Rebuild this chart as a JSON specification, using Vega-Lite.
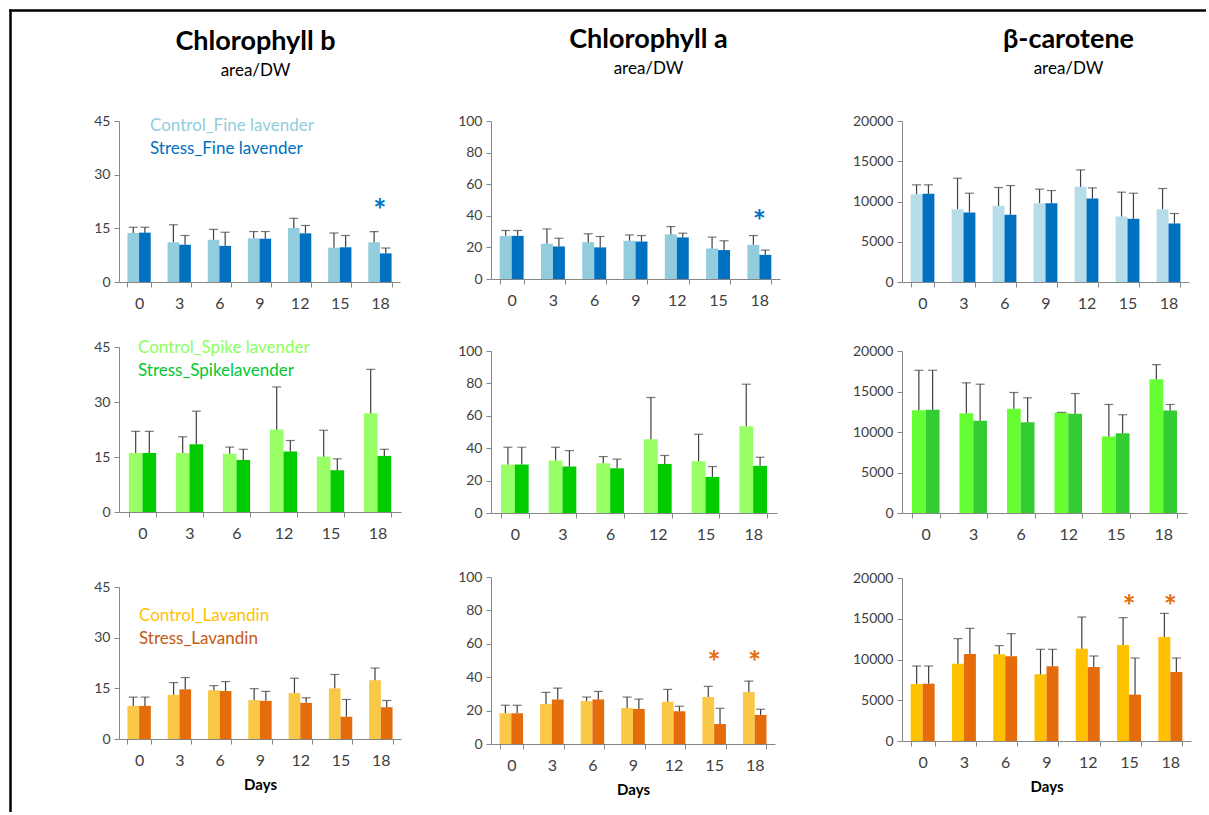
{
  "$schema": "https://vega.github.io/schema/vega-lite/v6.json",
  "padding": {"left": 10, "top": 10, "right": 0, "bottom": 0},
  "background": "white",
  "datasets": {
    "pig": [
      {"p": "b", "v": "F", "g": "Control_Fine lavender", "d": 0, "m": 13.7, "h": 15.3},
      {"p": "b", "v": "F", "g": "Stress_Fine lavender", "d": 0, "m": 13.8, "h": 15.3},
      {"p": "b", "v": "F", "g": "Control_Fine lavender", "d": 3, "m": 11.1, "h": 16.0},
      {"p": "b", "v": "F", "g": "Stress_Fine lavender", "d": 3, "m": 10.4, "h": 13.0},
      {"p": "b", "v": "F", "g": "Control_Fine lavender", "d": 6, "m": 11.8, "h": 14.7},
      {"p": "b", "v": "F", "g": "Stress_Fine lavender", "d": 6, "m": 10.1, "h": 13.9},
      {"p": "b", "v": "F", "g": "Control_Fine lavender", "d": 9, "m": 12.2, "h": 14.1},
      {"p": "b", "v": "F", "g": "Stress_Fine lavender", "d": 9, "m": 12.1, "h": 14.1},
      {"p": "b", "v": "F", "g": "Control_Fine lavender", "d": 12, "m": 15.1, "h": 17.8},
      {"p": "b", "v": "F", "g": "Stress_Fine lavender", "d": 12, "m": 13.6, "h": 15.8},
      {"p": "b", "v": "F", "g": "Control_Fine lavender", "d": 15, "m": 9.6, "h": 13.7},
      {"p": "b", "v": "F", "g": "Stress_Fine lavender", "d": 15, "m": 9.7, "h": 13.0},
      {"p": "b", "v": "F", "g": "Control_Fine lavender", "d": 18, "m": 11.1, "h": 14.1},
      {"p": "b", "v": "F", "g": "Stress_Fine lavender", "d": 18, "m": 8.0, "h": 9.5, "s": true},

      {"p": "a", "v": "F", "g": "Control_Fine lavender", "d": 0, "m": 27.3, "h": 30.7},
      {"p": "a", "v": "F", "g": "Stress_Fine lavender", "d": 0, "m": 27.3, "h": 30.7},
      {"p": "a", "v": "F", "g": "Control_Fine lavender", "d": 3, "m": 22.3, "h": 31.7},
      {"p": "a", "v": "F", "g": "Stress_Fine lavender", "d": 3, "m": 20.6, "h": 25.8},
      {"p": "a", "v": "F", "g": "Control_Fine lavender", "d": 6, "m": 23.3, "h": 28.6},
      {"p": "a", "v": "F", "g": "Stress_Fine lavender", "d": 6, "m": 20.0, "h": 26.9},
      {"p": "a", "v": "F", "g": "Control_Fine lavender", "d": 9, "m": 24.2, "h": 27.9},
      {"p": "a", "v": "F", "g": "Stress_Fine lavender", "d": 9, "m": 23.7, "h": 27.5},
      {"p": "a", "v": "F", "g": "Control_Fine lavender", "d": 12, "m": 28.2, "h": 33.2},
      {"p": "a", "v": "F", "g": "Stress_Fine lavender", "d": 12, "m": 26.3, "h": 29.0},
      {"p": "a", "v": "F", "g": "Control_Fine lavender", "d": 15, "m": 19.3, "h": 26.5},
      {"p": "a", "v": "F", "g": "Stress_Fine lavender", "d": 15, "m": 18.3, "h": 24.2},
      {"p": "a", "v": "F", "g": "Control_Fine lavender", "d": 18, "m": 21.6, "h": 27.5},
      {"p": "a", "v": "F", "g": "Stress_Fine lavender", "d": 18, "m": 15.3, "h": 18.3, "s": true},

      {"p": "c", "v": "F", "g": "Control_Fine lavender", "d": 0, "m": 10900, "h": 12070},
      {"p": "c", "v": "F", "g": "Stress_Fine lavender", "d": 0, "m": 10950, "h": 12070},
      {"p": "c", "v": "F", "g": "Control_Fine lavender", "d": 3, "m": 9050, "h": 12890},
      {"p": "c", "v": "F", "g": "Stress_Fine lavender", "d": 3, "m": 8640, "h": 11030},
      {"p": "c", "v": "F", "g": "Control_Fine lavender", "d": 6, "m": 9460, "h": 11740},
      {"p": "c", "v": "F", "g": "Stress_Fine lavender", "d": 6, "m": 8350, "h": 11980},
      {"p": "c", "v": "F", "g": "Control_Fine lavender", "d": 9, "m": 9790, "h": 11530},
      {"p": "c", "v": "F", "g": "Stress_Fine lavender", "d": 9, "m": 9790, "h": 11360},
      {"p": "c", "v": "F", "g": "Control_Fine lavender", "d": 12, "m": 11820, "h": 13930},
      {"p": "c", "v": "F", "g": "Stress_Fine lavender", "d": 12, "m": 10370, "h": 11690},
      {"p": "c", "v": "F", "g": "Control_Fine lavender", "d": 15, "m": 8140, "h": 11160},
      {"p": "c", "v": "F", "g": "Stress_Fine lavender", "d": 15, "m": 7850, "h": 11030},
      {"p": "c", "v": "F", "g": "Control_Fine lavender", "d": 18, "m": 9050, "h": 11610},
      {"p": "c", "v": "F", "g": "Stress_Fine lavender", "d": 18, "m": 7270, "h": 8510},

      {"p": "b", "v": "S", "g": "Control_Spike lavender", "d": 0, "m": 16.1, "h": 22.0},
      {"p": "b", "v": "S", "g": "Stress_Spikelavender", "d": 0, "m": 16.1, "h": 22.0},
      {"p": "b", "v": "S", "g": "Control_Spike lavender", "d": 3, "m": 16.1, "h": 20.5},
      {"p": "b", "v": "S", "g": "Stress_Spikelavender", "d": 3, "m": 18.5, "h": 27.5},
      {"p": "b", "v": "S", "g": "Control_Spike lavender", "d": 6, "m": 15.9, "h": 17.7},
      {"p": "b", "v": "S", "g": "Stress_Spikelavender", "d": 6, "m": 14.2, "h": 17.1},
      {"p": "b", "v": "S", "g": "Control_Spike lavender", "d": 12, "m": 22.5, "h": 34.1},
      {"p": "b", "v": "S", "g": "Stress_Spikelavender", "d": 12, "m": 16.5, "h": 19.5},
      {"p": "b", "v": "S", "g": "Control_Spike lavender", "d": 15, "m": 15.1, "h": 22.3},
      {"p": "b", "v": "S", "g": "Stress_Spikelavender", "d": 15, "m": 11.4, "h": 14.5},
      {"p": "b", "v": "S", "g": "Control_Spike lavender", "d": 18, "m": 26.9, "h": 38.9},
      {"p": "b", "v": "S", "g": "Stress_Spikelavender", "d": 18, "m": 15.3, "h": 17.1},

      {"p": "a", "v": "S", "g": "Control_Spike lavender", "d": 0, "m": 29.9, "h": 40.6},
      {"p": "a", "v": "S", "g": "Stress_Spikelavender", "d": 0, "m": 29.9, "h": 40.6},
      {"p": "a", "v": "S", "g": "Control_Spike lavender", "d": 3, "m": 32.4, "h": 40.6},
      {"p": "a", "v": "S", "g": "Stress_Spikelavender", "d": 3, "m": 28.7, "h": 38.5},
      {"p": "a", "v": "S", "g": "Control_Spike lavender", "d": 6, "m": 30.7, "h": 34.8},
      {"p": "a", "v": "S", "g": "Stress_Spikelavender", "d": 6, "m": 27.7, "h": 33.2},
      {"p": "a", "v": "S", "g": "Control_Spike lavender", "d": 12, "m": 45.5, "h": 71.3},
      {"p": "a", "v": "S", "g": "Stress_Spikelavender", "d": 12, "m": 30.3, "h": 35.5},
      {"p": "a", "v": "S", "g": "Control_Spike lavender", "d": 15, "m": 32.0, "h": 48.6},
      {"p": "a", "v": "S", "g": "Stress_Spikelavender", "d": 15, "m": 22.3, "h": 28.7},
      {"p": "a", "v": "S", "g": "Control_Spike lavender", "d": 18, "m": 53.5, "h": 79.5},
      {"p": "a", "v": "S", "g": "Stress_Spikelavender", "d": 18, "m": 29.1, "h": 34.4},

      {"p": "c", "v": "S", "g": "Control_Spike lavender", "d": 0, "m": 12700, "h": 17620},
      {"p": "c", "v": "S", "g": "Stress_Spikelavender", "d": 0, "m": 12750, "h": 17620},
      {"p": "c", "v": "S", "g": "Control_Spike lavender", "d": 3, "m": 12300, "h": 16070},
      {"p": "c", "v": "S", "g": "Stress_Spikelavender", "d": 3, "m": 11390, "h": 15900},
      {"p": "c", "v": "S", "g": "Control_Spike lavender", "d": 6, "m": 12870, "h": 14880},
      {"p": "c", "v": "S", "g": "Stress_Spikelavender", "d": 6, "m": 11190, "h": 14220},
      {"p": "c", "v": "S", "g": "Control_Spike lavender", "d": 12, "m": 12380, "h": 12420},
      {"p": "c", "v": "S", "g": "Stress_Spikelavender", "d": 12, "m": 12250, "h": 14750},
      {"p": "c", "v": "S", "g": "Control_Spike lavender", "d": 15, "m": 9430, "h": 13400},
      {"p": "c", "v": "S", "g": "Stress_Spikelavender", "d": 15, "m": 9840, "h": 12130},
      {"p": "c", "v": "S", "g": "Control_Spike lavender", "d": 18, "m": 16520, "h": 18320},
      {"p": "c", "v": "S", "g": "Stress_Spikelavender", "d": 18, "m": 12660, "h": 13400},

      {"p": "b", "v": "L", "g": "Control_Lavandin", "d": 0, "m": 9.8, "h": 12.4},
      {"p": "b", "v": "L", "g": "Stress_Lavandin", "d": 0, "m": 9.8, "h": 12.4},
      {"p": "b", "v": "L", "g": "Control_Lavandin", "d": 3, "m": 13.1, "h": 16.7},
      {"p": "b", "v": "L", "g": "Stress_Lavandin", "d": 3, "m": 14.7, "h": 18.2},
      {"p": "b", "v": "L", "g": "Control_Lavandin", "d": 6, "m": 14.4, "h": 15.8},
      {"p": "b", "v": "L", "g": "Stress_Lavandin", "d": 6, "m": 14.2, "h": 17.0},
      {"p": "b", "v": "L", "g": "Control_Lavandin", "d": 9, "m": 11.5, "h": 14.9},
      {"p": "b", "v": "L", "g": "Stress_Lavandin", "d": 9, "m": 11.3, "h": 14.1},
      {"p": "b", "v": "L", "g": "Control_Lavandin", "d": 12, "m": 13.6, "h": 18.0},
      {"p": "b", "v": "L", "g": "Stress_Lavandin", "d": 12, "m": 10.7, "h": 12.2},
      {"p": "b", "v": "L", "g": "Control_Lavandin", "d": 15, "m": 15.0, "h": 19.1},
      {"p": "b", "v": "L", "g": "Stress_Lavandin", "d": 15, "m": 6.6, "h": 11.7},
      {"p": "b", "v": "L", "g": "Control_Lavandin", "d": 18, "m": 17.4, "h": 21.0},
      {"p": "b", "v": "L", "g": "Stress_Lavandin", "d": 18, "m": 9.4, "h": 11.4},

      {"p": "a", "v": "L", "g": "Control_Lavandin", "d": 0, "m": 18.4, "h": 23.2},
      {"p": "a", "v": "L", "g": "Stress_Lavandin", "d": 0, "m": 18.4, "h": 23.2},
      {"p": "a", "v": "L", "g": "Control_Lavandin", "d": 3, "m": 24.0, "h": 30.9},
      {"p": "a", "v": "L", "g": "Stress_Lavandin", "d": 3, "m": 26.7, "h": 33.5},
      {"p": "a", "v": "L", "g": "Control_Lavandin", "d": 6, "m": 25.7, "h": 28.1},
      {"p": "a", "v": "L", "g": "Stress_Lavandin", "d": 6, "m": 26.7, "h": 31.5},
      {"p": "a", "v": "L", "g": "Control_Lavandin", "d": 9, "m": 21.6, "h": 28.1},
      {"p": "a", "v": "L", "g": "Stress_Lavandin", "d": 9, "m": 21.0, "h": 26.9},
      {"p": "a", "v": "L", "g": "Control_Lavandin", "d": 12, "m": 25.3, "h": 32.7},
      {"p": "a", "v": "L", "g": "Stress_Lavandin", "d": 12, "m": 19.6, "h": 22.6},
      {"p": "a", "v": "L", "g": "Control_Lavandin", "d": 15, "m": 28.1, "h": 34.5},
      {"p": "a", "v": "L", "g": "Stress_Lavandin", "d": 15, "m": 12.0, "h": 21.4, "s": true},
      {"p": "a", "v": "L", "g": "Control_Lavandin", "d": 18, "m": 31.1, "h": 37.7},
      {"p": "a", "v": "L", "g": "Stress_Lavandin", "d": 18, "m": 17.4, "h": 20.8, "s": true},

      {"p": "c", "v": "L", "g": "Control_Lavandin", "d": 0, "m": 6990, "h": 9200},
      {"p": "c", "v": "L", "g": "Stress_Lavandin", "d": 0, "m": 7030, "h": 9200},
      {"p": "c", "v": "L", "g": "Control_Lavandin", "d": 3, "m": 9490, "h": 12560},
      {"p": "c", "v": "L", "g": "Stress_Lavandin", "d": 3, "m": 10670, "h": 13820},
      {"p": "c", "v": "L", "g": "Control_Lavandin", "d": 6, "m": 10630, "h": 11700},
      {"p": "c", "v": "L", "g": "Stress_Lavandin", "d": 6, "m": 10390, "h": 13170},
      {"p": "c", "v": "L", "g": "Control_Lavandin", "d": 9, "m": 8180, "h": 11250},
      {"p": "c", "v": "L", "g": "Stress_Lavandin", "d": 9, "m": 9160, "h": 11250},
      {"p": "c", "v": "L", "g": "Control_Lavandin", "d": 12, "m": 11330, "h": 15210},
      {"p": "c", "v": "L", "g": "Stress_Lavandin", "d": 12, "m": 9080, "h": 10430},
      {"p": "c", "v": "L", "g": "Control_Lavandin", "d": 15, "m": 11780, "h": 15130},
      {"p": "c", "v": "L", "g": "Stress_Lavandin", "d": 15, "m": 5690, "h": 10180, "s": true},
      {"p": "c", "v": "L", "g": "Control_Lavandin", "d": 18, "m": 12760, "h": 15660},
      {"p": "c", "v": "L", "g": "Stress_Lavandin", "d": 18, "m": 8470, "h": 10180, "s": true}
    ]
  },
  "data": {"name": "pig"},
  "bounds": "flush",
  "spacing": 109,
  "resolve": {"scale": {"color": "independent", "xOffset": "independent"}, "legend": {"color": "independent"}},
  "hconcat": [
    {
      "bounds": "flush",
      "vconcat": [
        {
          "width": 1196, "height": 802,
          "data": {"values": []},
          "mark": {"type": "point", "opacity": 0},
          "encoding": {
            "x": {"field": "fx", "type": "quantitative", "scale": {"domain": [0, 1]},
              "axis": {"orient": "top", "title": null, "labels": false, "ticks": false, "grid": false, "domainColor": "#000000", "domainWidth": 2.5, "domainCap": "square"}},
            "y": {"field": "fy", "type": "quantitative", "scale": {"domain": [0, 1]},
              "axis": {"orient": "left", "title": null, "labels": false, "ticks": false, "grid": false, "domainColor": "#000000", "domainWidth": 2.5, "domainCap": "square"}}
          }
        }
      ]
    },
    {
      "bounds": "flush",
      "spacing": 111,
      "resolve": {"scale": {"color": "independent", "xOffset": "independent"}, "legend": {"color": "independent"}},
      "vconcat": [
        {
          "bounds": "flush",
          "hconcat": [
            {"width": 1, "height": 1, "data": {"values": []}, "mark": {"type": "point", "opacity": 0}}
          ]
        },
        {
          "bounds": "flush",
          "spacing": 372,
          "resolve": {"scale": {"color": "independent", "xOffset": "independent"}, "legend": {"color": "independent"}},
          "hconcat": [
            {
              "bounds": "flush",
              "spacing": 65,
              "resolve": {"scale": {"color": "independent", "xOffset": "independent"}, "legend": {"color": "independent"}},
              "vconcat": [
                {
                  "width": 281, "height": 161,
                  "title": {"text": "Chlorophyll b", "subtitle": "area/DW", "dx": -4, "offset": 34},
                  "transform": [{"filter": "datum.p === 'b' && datum.v === 'F'"}],
                  "encoding": {"x": {"field": "d", "type": "ordinal", "title": null, "scale": {"paddingInner": 0.42, "paddingOuter": 0.21}}},
                  "layer": [
                    {"mark": "bar", "encoding": {
                      "xOffset": {"field": "g", "type": "nominal"},
                      "y": {"field": "m", "type": "quantitative", "title": null, "scale": {"domain": [0, 45], "nice": false}, "axis": {"values": [0, 15, 30, 45], "tickCount": 10}},
                      "color": {"field": "g", "type": "nominal", "scale": {"range": ["#93cddd", "#0070c0"]},
                        "legend": {"title": null, "legendX": 14, "legendY": -4,
                          "labelColor": {"expr": "datum.value === 'Control_Fine lavender' ? '#92cddc' : '#0070c0'"}}}}},
                    {"mark": {"type": "rule", "color": "#404040", "strokeWidth": 1.2}, "encoding": {
                      "xOffset": {"field": "g", "type": "nominal"},
                      "y": {"field": "m", "type": "quantitative", "title": null, "scale": {"domain": [0, 45], "nice": false}}, "y2": {"field": "h"}}},
                    {"mark": {"type": "tick", "color": "#404040", "thickness": 1.2, "size": 9}, "encoding": {
                      "xOffset": {"field": "g", "type": "nominal"},
                      "y": {"field": "h", "type": "quantitative", "title": null, "scale": {"domain": [0, 45], "nice": false}}}},
                    {"transform": [{"filter": "datum.s === true"}],
                      "mark": {"type": "text", "text": "*", "fontSize": 31, "fontWeight": "bold", "color": "#0070c0", "baseline": "middle", "dy": 9},
                      "encoding": {"y": {"datum": 22, "type": "quantitative", "scale": {"domain": [0, 45], "nice": false}}}}
                  ]
                },
                {
                  "bounds": "flush",
                  "spacing": 75,
                  "resolve": {"scale": {"color": "independent", "xOffset": "independent"}, "legend": {"color": "independent"}},
                  "vconcat": [
                    {
                      "width": 282, "height": 165,
                      "transform": [{"filter": "datum.p === 'b' && datum.v === 'S'"}],
                      "encoding": {"x": {"field": "d", "type": "ordinal", "title": null, "scale": {"paddingInner": 0.42, "paddingOuter": 0.21}}},
                      "layer": [
                        {"mark": "bar", "encoding": {
                          "xOffset": {"field": "g", "type": "nominal"},
                          "y": {"field": "m", "type": "quantitative", "title": null, "scale": {"domain": [0, 45], "nice": false}, "axis": {"values": [0, 15, 30, 45], "tickCount": 10}},
                          "color": {"field": "g", "type": "nominal", "scale": {"range": ["#99ff66", "#00cc00"]},
                            "legend": {"title": null, "legendX": 2, "legendY": -8,
                              "labelColor": {"expr": "datum.value === 'Control_Spike lavender' ? '#8cff5a' : '#00c832'"}}}}},
                        {"mark": {"type": "rule", "color": "#404040", "strokeWidth": 1.2}, "encoding": {
                          "xOffset": {"field": "g", "type": "nominal"},
                          "y": {"field": "m", "type": "quantitative", "title": null, "scale": {"domain": [0, 45], "nice": false}}, "y2": {"field": "h"}}},
                        {"mark": {"type": "tick", "color": "#404040", "thickness": 1.2, "size": 9}, "encoding": {
                          "xOffset": {"field": "g", "type": "nominal"},
                          "y": {"field": "h", "type": "quantitative", "title": null, "scale": {"domain": [0, 45], "nice": false}}}}
                      ]
                    },
                    {
                      "width": 282, "height": 152,
                      "transform": [{"filter": "datum.p === 'b' && datum.v === 'L'"}],
                      "encoding": {"x": {"field": "d", "type": "ordinal", "title": "Days", "scale": {"paddingInner": 0.42, "paddingOuter": 0.21}}},
                      "layer": [
                        {"mark": "bar", "encoding": {
                          "xOffset": {"field": "g", "type": "nominal"},
                          "y": {"field": "m", "type": "quantitative", "title": null, "scale": {"domain": [0, 45], "nice": false}, "axis": {"values": [0, 15, 30, 45], "tickCount": 10}},
                          "color": {"field": "g", "type": "nominal", "scale": {"range": ["#f9c846", "#e46c0a"]},
                            "legend": {"title": null, "legendX": 3, "legendY": 20,
                              "labelColor": {"expr": "datum.value === 'Control_Lavandin' ? '#ffc000' : '#c55a11'"}}}}},
                        {"mark": {"type": "rule", "color": "#404040", "strokeWidth": 1.2}, "encoding": {
                          "xOffset": {"field": "g", "type": "nominal"},
                          "y": {"field": "m", "type": "quantitative", "title": null, "scale": {"domain": [0, 45], "nice": false}}, "y2": {"field": "h"}}},
                        {"mark": {"type": "tick", "color": "#404040", "thickness": 1.2, "size": 9}, "encoding": {
                          "xOffset": {"field": "g", "type": "nominal"},
                          "y": {"field": "h", "type": "quantitative", "title": null, "scale": {"domain": [0, 45], "nice": false}}}}
                      ]
                    }
                  ]
                }
              ]
            },
            {
              "bounds": "flush",
              "spacing": 411,
              "resolve": {"scale": {"color": "independent", "xOffset": "independent"}, "legend": {"color": "independent"}},
              "hconcat": [
                {
                  "bounds": "flush",
                  "spacing": 72,
                  "resolve": {"scale": {"color": "independent", "xOffset": "independent"}, "legend": {"color": "independent"}},
                  "vconcat": [
                    {
                      "width": 289, "height": 158,
                      "title": {"text": "Chlorophyll a", "subtitle": "area/DW", "dx": 13, "offset": 36},
                      "transform": [{"filter": "datum.p === 'a' && datum.v === 'F'"}],
                      "encoding": {"x": {"field": "d", "type": "ordinal", "title": null, "scale": {"paddingInner": 0.42, "paddingOuter": 0.21}}},
                      "layer": [
                        {"mark": "bar", "encoding": {
                          "xOffset": {"field": "g", "type": "nominal"},
                          "y": {"field": "m", "type": "quantitative", "title": null, "scale": {"domain": [0, 100], "nice": false}, "axis": {"values": [0, 20, 40, 60, 80, 100], "tickCount": 10}},
                          "color": {"field": "g", "type": "nominal", "scale": {"range": ["#93cddd", "#0070c0"]}, "legend": null}}},
                        {"mark": {"type": "rule", "color": "#404040", "strokeWidth": 1.2}, "encoding": {
                          "xOffset": {"field": "g", "type": "nominal"},
                          "y": {"field": "m", "type": "quantitative", "title": null, "scale": {"domain": [0, 100], "nice": false}}, "y2": {"field": "h"}}},
                        {"mark": {"type": "tick", "color": "#404040", "thickness": 1.2, "size": 9}, "encoding": {
                          "xOffset": {"field": "g", "type": "nominal"},
                          "y": {"field": "h", "type": "quantitative", "title": null, "scale": {"domain": [0, 100], "nice": false}}}},
                        {"transform": [{"filter": "datum.s === true"}],
                          "mark": {"type": "text", "text": "*", "fontSize": 31, "fontWeight": "bold", "color": "#0070c0", "baseline": "middle", "dy": 9},
                          "encoding": {"y": {"datum": 41, "type": "quantitative", "scale": {"domain": [0, 100], "nice": false}}}}
                      ]
                    },
                    {
                      "bounds": "flush",
                      "spacing": 64,
                      "resolve": {"scale": {"color": "independent", "xOffset": "independent"}, "legend": {"color": "independent"}},
                      "vconcat": [
                        {
                          "width": 286, "height": 162,
                          "transform": [{"filter": "datum.p === 'a' && datum.v === 'S'"}],
                          "encoding": {"x": {"field": "d", "type": "ordinal", "title": null, "scale": {"paddingInner": 0.42, "paddingOuter": 0.21}}},
                          "layer": [
                            {"mark": "bar", "encoding": {
                              "xOffset": {"field": "g", "type": "nominal"},
                              "y": {"field": "m", "type": "quantitative", "title": null, "scale": {"domain": [0, 100], "nice": false}, "axis": {"values": [0, 20, 40, 60, 80, 100], "tickCount": 10}},
                              "color": {"field": "g", "type": "nominal", "scale": {"range": ["#99ff66", "#00cc00"]}, "legend": null}}},
                            {"mark": {"type": "rule", "color": "#404040", "strokeWidth": 1.2}, "encoding": {
                              "xOffset": {"field": "g", "type": "nominal"},
                              "y": {"field": "m", "type": "quantitative", "title": null, "scale": {"domain": [0, 100], "nice": false}}, "y2": {"field": "h"}}},
                            {"mark": {"type": "tick", "color": "#404040", "thickness": 1.2, "size": 9}, "encoding": {
                              "xOffset": {"field": "g", "type": "nominal"},
                              "y": {"field": "h", "type": "quantitative", "title": null, "scale": {"domain": [0, 100], "nice": false}}}}
                          ]
                        },
                        {
                          "width": 284, "height": 167,
                          "transform": [{"filter": "datum.p === 'a' && datum.v === 'L'"}],
                          "encoding": {"x": {"field": "d", "type": "ordinal", "title": "Days", "scale": {"paddingInner": 0.42, "paddingOuter": 0.21}}},
                          "layer": [
                            {"mark": "bar", "encoding": {
                              "xOffset": {"field": "g", "type": "nominal"},
                              "y": {"field": "m", "type": "quantitative", "title": null, "scale": {"domain": [0, 100], "nice": false}, "axis": {"values": [0, 20, 40, 60, 80, 100], "tickCount": 10}},
                              "color": {"field": "g", "type": "nominal", "scale": {"range": ["#f9c846", "#e46c0a"]}, "legend": null}}},
                            {"mark": {"type": "rule", "color": "#404040", "strokeWidth": 1.2}, "encoding": {
                              "xOffset": {"field": "g", "type": "nominal"},
                              "y": {"field": "m", "type": "quantitative", "title": null, "scale": {"domain": [0, 100], "nice": false}}, "y2": {"field": "h"}}},
                            {"mark": {"type": "tick", "color": "#404040", "thickness": 1.2, "size": 9}, "encoding": {
                              "xOffset": {"field": "g", "type": "nominal"},
                              "y": {"field": "h", "type": "quantitative", "title": null, "scale": {"domain": [0, 100], "nice": false}}}},
                            {"transform": [{"filter": "datum.s === true"}],
                              "mark": {"type": "text", "text": "*", "fontSize": 31, "fontWeight": "bold", "color": "#e46c0a", "baseline": "middle", "dy": 9},
                              "encoding": {"y": {"datum": 53.3, "type": "quantitative", "scale": {"domain": [0, 100], "nice": false}}}}
                          ]
                        }
                      ]
                    }
                  ]
                },
                {
                  "bounds": "flush",
                  "spacing": 69,
                  "resolve": {"scale": {"color": "independent", "xOffset": "independent"}, "legend": {"color": "independent"}},
                  "vconcat": [
                    {
                      "width": 287, "height": 161,
                      "title": {"text": "β-carotene", "subtitle": "area/DW", "dx": 23, "offset": 36},
                      "transform": [{"filter": "datum.p === 'c' && datum.v === 'F'"}],
                      "encoding": {"x": {"field": "d", "type": "ordinal", "title": null, "scale": {"paddingInner": 0.42, "paddingOuter": 0.21}}},
                      "layer": [
                        {"mark": "bar", "encoding": {
                          "xOffset": {"field": "g", "type": "nominal"},
                          "y": {"field": "m", "type": "quantitative", "title": null, "scale": {"domain": [0, 20000], "nice": false}, "axis": {"values": [0, 5000, 10000, 15000, 20000], "tickCount": 10}},
                          "color": {"field": "g", "type": "nominal", "scale": {"range": ["#b7dee8", "#0070c0"]}, "legend": null}}},
                        {"mark": {"type": "rule", "color": "#404040", "strokeWidth": 1.2}, "encoding": {
                          "xOffset": {"field": "g", "type": "nominal"},
                          "y": {"field": "m", "type": "quantitative", "title": null, "scale": {"domain": [0, 20000], "nice": false}}, "y2": {"field": "h"}}},
                        {"mark": {"type": "tick", "color": "#404040", "thickness": 1.2, "size": 9}, "encoding": {
                          "xOffset": {"field": "g", "type": "nominal"},
                          "y": {"field": "h", "type": "quantitative", "title": null, "scale": {"domain": [0, 20000], "nice": false}}}}
                      ]
                    },
                    {
                      "bounds": "flush",
                      "spacing": 65,
                      "resolve": {"scale": {"color": "independent", "xOffset": "independent"}, "legend": {"color": "independent"}},
                      "vconcat": [
                        {
                          "width": 285, "height": 162,
                          "transform": [{"filter": "datum.p === 'c' && datum.v === 'S'"}],
                          "encoding": {"x": {"field": "d", "type": "ordinal", "title": null, "scale": {"paddingInner": 0.42, "paddingOuter": 0.21}}},
                          "layer": [
                            {"mark": "bar", "encoding": {
                              "xOffset": {"field": "g", "type": "nominal"},
                              "y": {"field": "m", "type": "quantitative", "title": null, "scale": {"domain": [0, 20000], "nice": false}, "axis": {"values": [0, 5000, 10000, 15000, 20000], "tickCount": 10}},
                              "color": {"field": "g", "type": "nominal", "scale": {"range": ["#66ff33", "#33cc33"]}, "legend": null}}},
                            {"mark": {"type": "rule", "color": "#404040", "strokeWidth": 1.2}, "encoding": {
                              "xOffset": {"field": "g", "type": "nominal"},
                              "y": {"field": "m", "type": "quantitative", "title": null, "scale": {"domain": [0, 20000], "nice": false}}, "y2": {"field": "h"}}},
                            {"mark": {"type": "tick", "color": "#404040", "thickness": 1.2, "size": 9}, "encoding": {
                              "xOffset": {"field": "g", "type": "nominal"},
                              "y": {"field": "h", "type": "quantitative", "title": null, "scale": {"domain": [0, 20000], "nice": false}}}}
                          ]
                        },
                        {
                          "width": 289, "height": 163,
                          "transform": [{"filter": "datum.p === 'c' && datum.v === 'L'"}],
                          "encoding": {"x": {"field": "d", "type": "ordinal", "title": "Days", "scale": {"paddingInner": 0.42, "paddingOuter": 0.21}}},
                          "layer": [
                            {"mark": "bar", "encoding": {
                              "xOffset": {"field": "g", "type": "nominal"},
                              "y": {"field": "m", "type": "quantitative", "title": null, "scale": {"domain": [0, 20000], "nice": false}, "axis": {"values": [0, 5000, 10000, 15000, 20000], "tickCount": 10}},
                              "color": {"field": "g", "type": "nominal", "scale": {"range": ["#ffc000", "#e46c0a"]}, "legend": null}}},
                            {"mark": {"type": "rule", "color": "#404040", "strokeWidth": 1.2}, "encoding": {
                              "xOffset": {"field": "g", "type": "nominal"},
                              "y": {"field": "m", "type": "quantitative", "title": null, "scale": {"domain": [0, 20000], "nice": false}}, "y2": {"field": "h"}}},
                            {"mark": {"type": "tick", "color": "#404040", "thickness": 1.2, "size": 9}, "encoding": {
                              "xOffset": {"field": "g", "type": "nominal"},
                              "y": {"field": "h", "type": "quantitative", "title": null, "scale": {"domain": [0, 20000], "nice": false}}}},
                            {"transform": [{"filter": "datum.s === true"}],
                              "mark": {"type": "text", "text": "*", "fontSize": 31, "fontWeight": "bold", "color": "#e46c0a", "baseline": "middle", "dy": 9},
                              "encoding": {"y": {"datum": 17390, "type": "quantitative", "scale": {"domain": [0, 20000], "nice": false}}}}
                          ]
                        }
                      ]
                    }
                  ]
                }
              ]
            }
          ]
        }
      ]
    }
  ],
  "config": {
    "font": "Lato",
    "view": {"stroke": null},
    "bar": {"stroke": null},
    "axis": {"grid": false, "domainColor": "#868686", "tickColor": "#868686", "labelColor": "#404040", "labelFont": "Lato", "tickSize": 5, "titleFont": "Lato"},
    "axisX": {"labelFontSize": 16, "labelAngle": 0, "tickBand": "extent", "labelPadding": 8, "titleFontSize": 15, "titleFontWeight": "bold", "titleColor": "#000000", "titlePadding": 9},
    "axisY": {"labelFontSize": 14, "labelPadding": 4, "format": "d"},
    "legend": {"orient": "none", "direction": "vertical", "symbolSize": 0, "symbolOpacity": 0, "symbolStrokeWidth": 0, "labelOffset": 0, "labelFontSize": 17, "labelFont": "Lato", "rowPadding": 5, "labelLimit": 400, "padding": 0},
    "title": {"font": "Lato", "fontSize": 27, "fontWeight": "bold", "color": "#000000", "anchor": "middle", "frame": "group", "subtitleFont": "Lato", "subtitleFontSize": 17, "subtitleColor": "#000000", "subtitlePadding": 7}
  }
}
